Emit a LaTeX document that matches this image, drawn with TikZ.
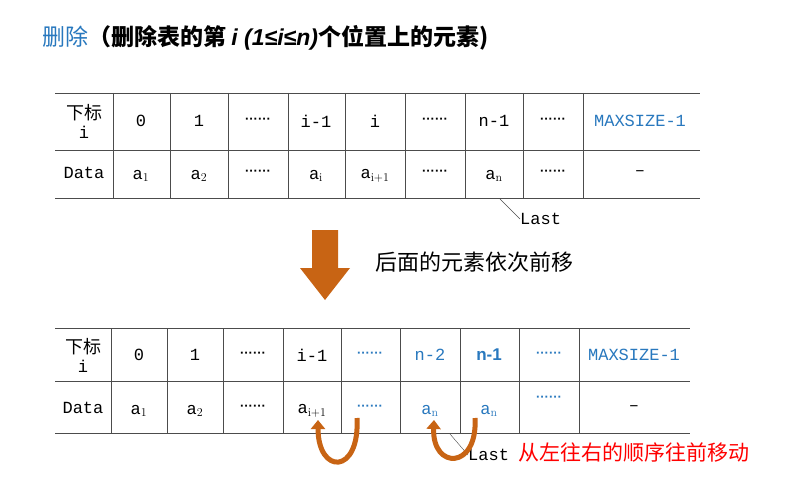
\documentclass[tikz,border=0pt]{standalone}
\usepackage{fontspec}
\setmonofont{Liberation Mono}
\setsansfont{Liberation Sans}
\newfontfamily\cjk{Noto Sans CJK SC}
\usetikzlibrary{arrows.meta}
\definecolor{tblue}{RGB}{40,120,190}
\definecolor{torange}{RGB}{200,100,20}
\newcommand\mydots{{\sffamily\bfseries\fontsize{13}{14}\selectfont ······}}
\begin{document}
\begin{tikzpicture}[x=1pt,y=-1pt,
  cell/.style={font=\ttfamily\fontsize{17}{18}\selectfont,anchor=center,inner sep=0},
  bl/.style={cell,text=tblue},
  grid/.style={line width=0.8pt,black!70},
  uarrow/.style={line width=5pt,torange,-{Triangle[length=9pt,width=14pt]}}]
\useasboundingbox (0,0) rectangle (800,497);
\fill[white] (0,0) rectangle (800,497);
% title
\node[anchor=west,inner sep=0] (title) at (42,38) {\cjk\fontsize{23}{24}\selectfont\textcolor{tblue}{删除}\textbf{（删除表的第 \textit{\sffamily i (1≤i≤n)}个位置上的元素)}};
% top table
\draw[grid] (55,93) -- (700,93) (55,150) -- (700,150) (55,198) -- (700,198);
\foreach \x in {113,170,228,288,345,405,465,523,583} \draw[grid] (\x,93) -- (\x,198);
\node[cell,align=center] (t0) at (84,121) {{\cjk\fontsize{18}{20}\selectfont 下标}\\[1pt]i};
\node[cell] at (141,121) {0};
\node[cell] at (199,121) {1};
\node[cell] at (258,121) {\mydots};
\node[cell] at (316,121) {i-1};
\node[cell] at (375,121) {i};
\node[cell] at (435,121) {\mydots};
\node[cell] at (494,121) {n-1};
\node[cell] at (553,121) {\mydots};
\node[bl] at (640,121) {MAXSIZE-1};
\node[cell] at (84,173) {Data};
\node[cell] at (141,176) {a$_1$};
\node[cell] at (199,176) {a$_2$};
\node[cell] at (258,173) {\mydots};
\node[cell] at (316,176) {a$_\mathrm{i}$};
\node[cell] at (375,176) {a$_\mathrm{i+1}$};
\node[cell] at (435,173) {\mydots};
\node[cell] (an1) at (494,176) {a$_\mathrm{n}$};
\node[cell] at (553,173) {\mydots};
\node[cell] at (640,173) {–};
\coordinate (l1) at (500,199);
\node[cell,anchor=west] (last1) at (520,219) {Last};
\draw[black!70] (l1) -- (last1.west);
% big arrow
\fill[torange] (312,230) -- (338,230) -- (338,268) -- (350,268) -- (325,300) -- (300,268) -- (312,268) -- cycle;
\node[anchor=west,inner sep=0] (move) at (375,262) {\cjk\fontsize{22}{24}\selectfont 后面的元素依次前移};
% bottom table
\draw[grid] (55,328) -- (690,328) (55,381) -- (690,381) (55,433) -- (690,433);
\foreach \x in {111,167,223,283,341,400,460,519,579} \draw[grid] (\x,328) -- (\x,433);
\node[cell,align=center] at (83,355) {{\cjk\fontsize{18}{20}\selectfont 下标}\\[1pt]i};
\node[cell] at (139,355) {0};
\node[cell] at (195,355) {1};
\node[cell] at (253,355) {\mydots};
\node[cell] at (312,355) {i-1};
\node[bl] at (370,355) {\mydots};
\node[bl] at (430,355) {n-2};
\node[bl,font=\sffamily\bfseries\fontsize{17}{18}\selectfont] at (489,355) {n-1};
\node[bl] at (549,355) {\mydots};
\node[bl] at (634,355) {MAXSIZE-1};
\node[cell] at (83,408) {Data};
\node[cell] at (139,411) {a$_1$};
\node[cell] at (195,411) {a$_2$};
\node[cell] at (253,408) {\mydots};
\node[cell] at (312,411) {a$_\mathrm{i+1}$};
\node[bl] at (370,408) {\mydots};
\node[bl] at (430,411) {a$_\mathrm{n}$};
\node[bl] at (489,411) {a$_\mathrm{n}$};
\node[bl] at (549,399) {\mydots};
\node[cell] at (634,408) {–};
\coordinate (l2) at (450,434);
\node[cell,anchor=west] (last2) at (468,455) {Last};
\draw[black!70] (l2) -- (last2.west);
\draw[uarrow] (357,418) .. controls (360,475) and (318,475) .. (318,420);
\draw[uarrow] (475,418) .. controls (478,470) and (432,470) .. (434,420);
\node[anchor=west,inner sep=0,text=red] (note) at (518,453) {\cjk\fontsize{21}{22}\selectfont 从左往右的顺序往前移动};
\end{tikzpicture}
\end{document}
